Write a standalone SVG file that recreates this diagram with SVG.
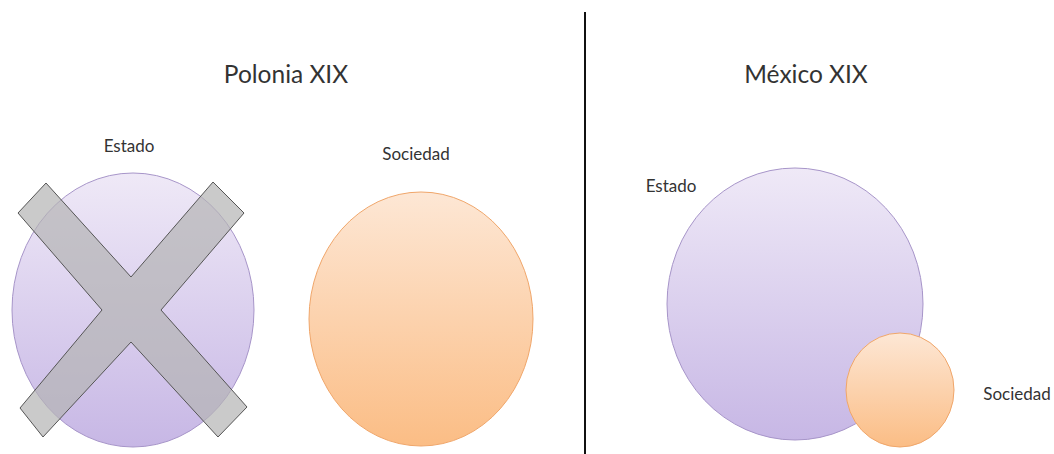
<svg xmlns="http://www.w3.org/2000/svg" width="1054" height="454" viewBox="0 0 1054 454">
<defs>
<linearGradient id="gP" x1="0" y1="0" x2="0" y2="1"><stop offset="0" stop-color="#efe9f7"/><stop offset="1" stop-color="#c7b7e5"/></linearGradient>
<linearGradient id="gO" x1="0" y1="0" x2="0" y2="1"><stop offset="0" stop-color="#fde7d5"/><stop offset="1" stop-color="#fbbd85"/></linearGradient>
<style>
.p{fill:url(#gP);stroke:#a795c9;stroke-width:1}
.o{fill:url(#gO);stroke:#f0a66a;stroke-width:1}
.x{fill:#b4b4b4;fill-opacity:0.7;stroke:#555;stroke-width:1;stroke-linejoin:miter}
.t{font-family:Lato,"Open Sans",sans-serif;fill:#333}
.big{font-size:24.5px}
.sm{font-size:17px}
</style>
</defs>
<rect width="1054" height="454" fill="#fff"/>
<line x1="585" y1="12" x2="585" y2="454" stroke="#111" stroke-width="2"/>
<text class="t big" x="286" y="83" text-anchor="middle">Polonia XIX</text>
<text class="t big" x="806" y="83" text-anchor="middle">México XIX</text>
<g id="polonia-estado">
<ellipse class="p" cx="133" cy="310" rx="121" ry="137"/>
<text class="t sm" x="129" y="152" text-anchor="middle">Estado</text>
</g>
<g id="polonia-x">
<polygon class="x" points="18,213 46,183 131,277 213,182 244,213 161,310 247,407 218,437 131,342 43,437 20,408 102,310"/>
</g>
<g id="polonia-sociedad">
<ellipse class="o" cx="421" cy="319" rx="112" ry="127"/>
<text class="t sm" x="416" y="160" text-anchor="middle">Sociedad</text>
</g>
<g id="mexico-estado">
<ellipse class="p" cx="795" cy="304" rx="128" ry="136"/>
<text class="t sm" x="671" y="192" text-anchor="middle">Estado</text>
</g>
<g id="mexico-sociedad">
<ellipse class="o" cx="900" cy="390" rx="54" ry="57"/>
<text class="t sm" x="1017" y="400" text-anchor="middle">Sociedad</text>
</g>
<g id="connectors"/>
</svg>
